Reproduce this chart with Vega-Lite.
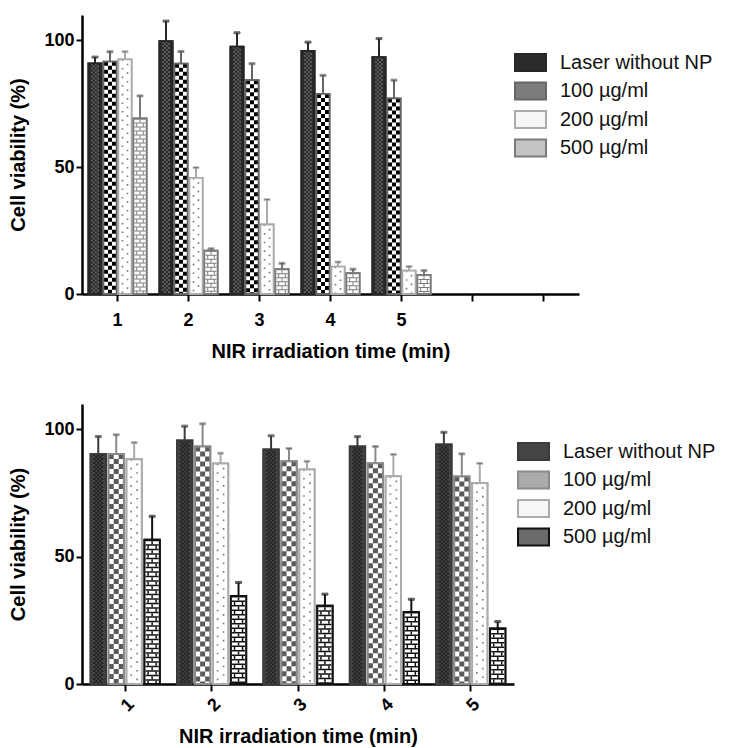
{
  "$schema": "https://vega.github.io/schema/vega-lite/v6.json",
  "padding": {"top": 15, "left": 8, "right": 5, "bottom": 5},
  "spacing": 43,
  "config": {
    "font": "Liberation Sans",
    "view": {"stroke": null},
    "axis": {"domainColor": "#000", "domainWidth": 2.5, "tickColor": "#000", "tickWidth": 2, "tickSize": 7, "labelFontSize": 18, "labelFontWeight": "bold", "labelColor": "#000", "titleFontSize": 20, "titleFontWeight": "bold", "titleColor": "#000", "grid": false, "labelFont": "Liberation Sans", "titleFont": "Liberation Sans"},
    "axisY": {"tickSize": 6, "labelPadding": 2, "titlePadding": 15},
    "axisX": {"labelPadding": 10, "titlePadding": 12},
    "legend": {"title": null, "orient": "none", "padding": 0, "symbolType": "M-1.107,-0.607H1.107V0.607H-1.107Z", "symbolSize": 784, "symbolStrokeWidth": 2, "labelFontSize": 20, "labelFont": "Liberation Sans", "labelColor": "#111", "labelOffset": 14.5, "rowPadding": 0.5}
  },
  "datasets": {
    "top": [
      {"t": 1, "series": "Laser without NP", "v": 90.9, "hi": 93.4},
      {"t": 1, "series": "100 µg/ml", "v": 91.6, "hi": 95.5},
      {"t": 1, "series": "200 µg/ml", "v": 92.5, "hi": 95.5},
      {"t": 1, "series": "500 µg/ml", "v": 69.2, "hi": 78.1},
      {"t": 2, "series": "Laser without NP", "v": 99.7, "hi": 107.6},
      {"t": 2, "series": "100 µg/ml", "v": 90.8, "hi": 95.6},
      {"t": 2, "series": "200 µg/ml", "v": 45.8, "hi": 49.8},
      {"t": 2, "series": "500 µg/ml", "v": 17.1, "hi": 17.8},
      {"t": 3, "series": "Laser without NP", "v": 97.5, "hi": 103.0},
      {"t": 3, "series": "100 µg/ml", "v": 84.3, "hi": 90.8},
      {"t": 3, "series": "200 µg/ml", "v": 27.4, "hi": 37.2},
      {"t": 3, "series": "500 µg/ml", "v": 9.8, "hi": 12.1},
      {"t": 4, "series": "Laser without NP", "v": 95.8, "hi": 99.3},
      {"t": 4, "series": "100 µg/ml", "v": 78.9, "hi": 86.2},
      {"t": 4, "series": "200 µg/ml", "v": 10.8, "hi": 12.6},
      {"t": 4, "series": "500 µg/ml", "v": 8.2, "hi": 9.8},
      {"t": 5, "series": "Laser without NP", "v": 93.4, "hi": 100.7},
      {"t": 5, "series": "100 µg/ml", "v": 77.1, "hi": 84.3},
      {"t": 5, "series": "200 µg/ml", "v": 9.2, "hi": 10.8},
      {"t": 5, "series": "500 µg/ml", "v": 7.5, "hi": 9.2}
    ],
    "bottom": [
      {"t": 1, "series": "Laser without NP", "v": 90.4, "hi": 97.2},
      {"t": 1, "series": "100 µg/ml", "v": 90.4, "hi": 97.9},
      {"t": 1, "series": "200 µg/ml", "v": 88.3, "hi": 94.8},
      {"t": 1, "series": "500 µg/ml", "v": 56.7, "hi": 65.9},
      {"t": 2, "series": "Laser without NP", "v": 95.7, "hi": 101.3},
      {"t": 2, "series": "100 µg/ml", "v": 93.3, "hi": 102.2},
      {"t": 2, "series": "200 µg/ml", "v": 86.6, "hi": 90.7},
      {"t": 2, "series": "500 µg/ml", "v": 34.6, "hi": 39.9},
      {"t": 3, "series": "Laser without NP", "v": 92.1, "hi": 97.5},
      {"t": 3, "series": "100 µg/ml", "v": 87.5, "hi": 92.5},
      {"t": 3, "series": "200 µg/ml", "v": 84.3, "hi": 87.5},
      {"t": 3, "series": "500 µg/ml", "v": 30.7, "hi": 35.3},
      {"t": 4, "series": "Laser without NP", "v": 93.3, "hi": 97.2},
      {"t": 4, "series": "100 µg/ml", "v": 86.7, "hi": 93.3},
      {"t": 4, "series": "200 µg/ml", "v": 81.6, "hi": 90.2},
      {"t": 4, "series": "500 µg/ml", "v": 28.3, "hi": 33.3},
      {"t": 5, "series": "Laser without NP", "v": 94.1, "hi": 98.9},
      {"t": 5, "series": "100 µg/ml", "v": 81.5, "hi": 90.4},
      {"t": 5, "series": "200 µg/ml", "v": 79.0, "hi": 86.7},
      {"t": 5, "series": "500 µg/ml", "v": 21.8, "hi": 24.5}
    ]
  },
  "resolve": {"scale": {"x": "independent", "y": "independent", "xOffset": "independent", "fill": "independent", "stroke": "independent"}, "legend": {"fill": "independent", "stroke": "independent"}},
  "vconcat": [
    {
      "width": 497,
      "height": 279,
      "data": {"name": "top"},
      "resolve": {"scale": {"xOffset": "independent"}},
      "encoding": {
        "x": {"field": "t", "type": "ordinal", "title": "NIR irradiation time (min)", "scale": {"domain": [1, 2, 3, 4, 5, 6, 7], "paddingInner": 0.18, "paddingOuter": 0.09}, "axis": {"labelAngle": 0, "labelExpr": "datum.value <= 5 ? datum.label : ''"}},
        "xOffset": {"field": "series", "type": "nominal", "scale": {"domain": ["Laser without NP", "100 µg/ml", "200 µg/ml", "500 µg/ml"], "paddingInner": 0.12, "paddingOuter": 0}},
        "y": {"field": "v", "type": "quantitative", "title": "Cell viability (%)", "scale": {"domain": [0, 110], "nice": false}, "axis": {"values": [0, 50, 100]}}
      },
      "layer": [
        {
          "mark": {"type": "bar", "strokeWidth": 1.8},
          "encoding": {
            "fill": {"field": "series", "type": "nominal", "scale": {"domain": ["Laser without NP", "100 µg/ml", "200 µg/ml", "500 µg/ml"], "range": ["#2b2b2b", "#7c7c7c", "#f6f6f6", "#c4c4c4"]}, "legend": {"legendX": 433.5, "legendY": 32.5}},
            "stroke": {"field": "series", "type": "nominal", "scale": {"domain": ["Laser without NP", "100 µg/ml", "200 µg/ml", "500 µg/ml"], "range": ["#262626", "#666666", "#ababab", "#7a7a7a"]}, "legend": {"legendX": 433.5, "legendY": 32.5}}
          }
        },
        {"transform": [{"filter": {"not": {"field": "series", "equal": "Laser without NP"}}}], "mark": {"type": "bar", "fill": "#ffffff", "strokeWidth": 0}},
        {"transform": [{"filter": {"field": "series", "equal": "Laser without NP"}}], "mark": {"type": "rule", "strokeWidth": 2, "strokeDash": [2, 2], "strokeDashOffset": 0, "stroke": "#5a5a5a"}, "encoding": {"xOffset": {"field": "series", "type": "nominal", "scale": {"domain": ["Laser without NP", "100 µg/ml", "200 µg/ml", "500 µg/ml"], "paddingInner": 0.12, "paddingOuter": 0, "range": [-3, 55.22]}}, "y2": {"datum": 0}}},
        {"transform": [{"filter": {"field": "series", "equal": "Laser without NP"}}], "mark": {"type": "rule", "strokeWidth": 2, "strokeDash": [2, 2], "strokeDashOffset": 2, "stroke": "#5a5a5a"}, "encoding": {"xOffset": {"field": "series", "type": "nominal", "scale": {"domain": ["Laser without NP", "100 µg/ml", "200 µg/ml", "500 µg/ml"], "paddingInner": 0.12, "paddingOuter": 0, "range": [-1, 57.22]}}, "y2": {"datum": 0}}},
        {"transform": [{"filter": {"field": "series", "equal": "Laser without NP"}}], "mark": {"type": "rule", "strokeWidth": 2, "strokeDash": [2, 2], "strokeDashOffset": 0, "stroke": "#5a5a5a"}, "encoding": {"xOffset": {"field": "series", "type": "nominal", "scale": {"domain": ["Laser without NP", "100 µg/ml", "200 µg/ml", "500 µg/ml"], "paddingInner": 0.12, "paddingOuter": 0, "range": [1, 59.22]}}, "y2": {"datum": 0}}},
        {"transform": [{"filter": {"field": "series", "equal": "Laser without NP"}}], "mark": {"type": "rule", "strokeWidth": 2, "strokeDash": [2, 2], "strokeDashOffset": 2, "stroke": "#5a5a5a"}, "encoding": {"xOffset": {"field": "series", "type": "nominal", "scale": {"domain": ["Laser without NP", "100 µg/ml", "200 µg/ml", "500 µg/ml"], "paddingInner": 0.12, "paddingOuter": 0, "range": [3, 61.22]}}, "y2": {"datum": 0}}},
        {"transform": [{"filter": {"field": "series", "equal": "100 µg/ml"}}], "mark": {"type": "rule", "strokeWidth": 4, "strokeDash": [4, 4], "strokeDashOffset": 0, "stroke": "#000"}, "encoding": {"xOffset": {"field": "series", "type": "nominal", "scale": {"domain": ["Laser without NP", "100 µg/ml", "200 µg/ml", "500 µg/ml"], "paddingInner": 0.12, "paddingOuter": 0, "range": [-4, 54.22]}}, "y2": {"datum": 0}}},
        {"transform": [{"filter": {"field": "series", "equal": "100 µg/ml"}}], "mark": {"type": "rule", "strokeWidth": 4, "strokeDash": [4, 4], "strokeDashOffset": 4, "stroke": "#000"}, "encoding": {"xOffset": {"field": "series", "type": "nominal", "scale": {"domain": ["Laser without NP", "100 µg/ml", "200 µg/ml", "500 µg/ml"], "paddingInner": 0.12, "paddingOuter": 0, "range": [0, 58.22]}}, "y2": {"datum": 0}}},
        {"transform": [{"filter": {"field": "series", "equal": "100 µg/ml"}}], "mark": {"type": "rule", "strokeWidth": 4, "strokeDash": [4, 4], "strokeDashOffset": 0, "stroke": "#000"}, "encoding": {"xOffset": {"field": "series", "type": "nominal", "scale": {"domain": ["Laser without NP", "100 µg/ml", "200 µg/ml", "500 µg/ml"], "paddingInner": 0.12, "paddingOuter": 0, "range": [4, 62.22]}}, "y2": {"datum": 0}}},
        {"transform": [{"filter": {"field": "series", "equal": "200 µg/ml"}}], "mark": {"type": "rule", "strokeWidth": 1.6, "strokeDash": [1.6, 7], "strokeDashOffset": 0, "stroke": "#777"}, "encoding": {"xOffset": {"field": "series", "type": "nominal", "scale": {"domain": ["Laser without NP", "100 µg/ml", "200 µg/ml", "500 µg/ml"], "paddingInner": 0.12, "paddingOuter": 0, "range": [-2.5, 55.72]}}, "y2": {"datum": 0}}},
        {"transform": [{"filter": {"field": "series", "equal": "200 µg/ml"}}], "mark": {"type": "rule", "strokeWidth": 1.6, "strokeDash": [1.6, 7], "strokeDashOffset": 4.3, "stroke": "#777"}, "encoding": {"xOffset": {"field": "series", "type": "nominal", "scale": {"domain": ["Laser without NP", "100 µg/ml", "200 µg/ml", "500 µg/ml"], "paddingInner": 0.12, "paddingOuter": 0, "range": [2.5, 60.72]}}, "y2": {"datum": 0}}},
        {"transform": [{"filter": {"field": "series", "equal": "500 µg/ml"}}], "mark": {"type": "rule", "strokeWidth": 11, "strokeDash": [1, 3], "strokeDashOffset": 0, "stroke": "#777"}, "encoding": {"y2": {"datum": 0}}},
        {"transform": [{"filter": {"field": "series", "equal": "500 µg/ml"}}], "mark": {"type": "rule", "strokeWidth": 1, "strokeDash": [3, 5], "strokeDashOffset": 7, "stroke": "#777"}, "encoding": {"y2": {"datum": 0}}},
        {"transform": [{"filter": {"field": "series", "equal": "500 µg/ml"}}], "mark": {"type": "rule", "strokeWidth": 1, "strokeDash": [3, 5], "strokeDashOffset": 3, "stroke": "#777"}, "encoding": {"xOffset": {"field": "series", "type": "nominal", "scale": {"domain": ["Laser without NP", "100 µg/ml", "200 µg/ml", "500 µg/ml"], "paddingInner": 0.12, "paddingOuter": 0, "range": [-3.3, 54.92]}}, "y2": {"datum": 0}}},
        {"transform": [{"filter": {"field": "series", "equal": "500 µg/ml"}}], "mark": {"type": "rule", "strokeWidth": 1, "strokeDash": [3, 5], "strokeDashOffset": 3, "stroke": "#777"}, "encoding": {"xOffset": {"field": "series", "type": "nominal", "scale": {"domain": ["Laser without NP", "100 µg/ml", "200 µg/ml", "500 µg/ml"], "paddingInner": 0.12, "paddingOuter": 0, "range": [3.3, 61.52]}}, "y2": {"datum": 0}}},
        {"mark": {"type": "bar", "fillOpacity": 0, "strokeWidth": 1.8}, "encoding": {"stroke": {"field": "series", "type": "nominal", "legend": null}}},
        {"mark": {"type": "rule", "strokeWidth": 2}, "encoding": {"y2": {"field": "hi"}, "stroke": {"field": "series", "type": "nominal", "legend": null}}},
        {"mark": {"type": "tick", "orient": "horizontal", "size": 6, "thickness": 2}, "encoding": {"y": {"field": "hi", "type": "quantitative", "title": "Cell viability (%)"}, "stroke": {"field": "series", "type": "nominal", "legend": null}, "fill": {"value": "#333"}}}
      ]
    },
    {
      "width": 432,
      "height": 280,
      "data": {"name": "bottom"},
      "resolve": {"scale": {"xOffset": "independent"}},
      "encoding": {
        "x": {"field": "t", "type": "ordinal", "title": "NIR irradiation time (min)", "scale": {"paddingInner": 0.2, "paddingOuter": 0.1}, "axis": {"labelAngle": -45, "labelPadding": 4}},
        "xOffset": {"field": "series", "type": "nominal", "scale": {"domain": ["Laser without NP", "100 µg/ml", "200 µg/ml", "500 µg/ml"], "paddingInner": 0.15, "paddingOuter": 0}},
        "y": {"field": "v", "type": "quantitative", "title": "Cell viability (%)", "scale": {"domain": [0, 110], "nice": false}, "axis": {"values": [0, 50, 100]}}
      },
      "layer": [
        {
          "mark": {"type": "bar", "strokeWidth": 2},
          "encoding": {
            "fill": {"field": "series", "type": "nominal", "scale": {"domain": ["Laser without NP", "100 µg/ml", "200 µg/ml", "500 µg/ml"], "range": ["#444444", "#ababab", "#f6f6f6", "#6a6a6a"]}, "legend": {"legendX": 436.5, "legendY": 32.5}},
            "stroke": {"field": "series", "type": "nominal", "scale": {"domain": ["Laser without NP", "100 µg/ml", "200 µg/ml", "500 µg/ml"], "range": ["#3a3a3a", "#8a8a8a", "#ababab", "#111111"]}, "legend": {"legendX": 436.5, "legendY": 32.5}}
          }
        },
        {"transform": [{"filter": {"not": {"field": "series", "equal": "Laser without NP"}}}], "mark": {"type": "bar", "fill": "#ffffff", "strokeWidth": 0}},
        {"transform": [{"filter": {"field": "series", "equal": "Laser without NP"}}], "mark": {"type": "rule", "strokeWidth": 2, "strokeDash": [2, 2], "strokeDashOffset": 0, "stroke": "#1e1e1e"}, "encoding": {"xOffset": {"field": "series", "type": "nominal", "scale": {"domain": ["Laser without NP", "100 µg/ml", "200 µg/ml", "500 µg/ml"], "paddingInner": 0.15, "paddingOuter": 0, "range": [-4, 65.12]}}, "y2": {"datum": 0}}},
        {"transform": [{"filter": {"field": "series", "equal": "Laser without NP"}}], "mark": {"type": "rule", "strokeWidth": 2, "strokeDash": [2, 2], "strokeDashOffset": 2, "stroke": "#1e1e1e"}, "encoding": {"xOffset": {"field": "series", "type": "nominal", "scale": {"domain": ["Laser without NP", "100 µg/ml", "200 µg/ml", "500 µg/ml"], "paddingInner": 0.15, "paddingOuter": 0, "range": [-2, 67.12]}}, "y2": {"datum": 0}}},
        {"transform": [{"filter": {"field": "series", "equal": "Laser without NP"}}], "mark": {"type": "rule", "strokeWidth": 2, "strokeDash": [2, 2], "strokeDashOffset": 0, "stroke": "#1e1e1e"}, "encoding": {"y2": {"datum": 0}}},
        {"transform": [{"filter": {"field": "series", "equal": "Laser without NP"}}], "mark": {"type": "rule", "strokeWidth": 2, "strokeDash": [2, 2], "strokeDashOffset": 2, "stroke": "#1e1e1e"}, "encoding": {"xOffset": {"field": "series", "type": "nominal", "scale": {"domain": ["Laser without NP", "100 µg/ml", "200 µg/ml", "500 µg/ml"], "paddingInner": 0.15, "paddingOuter": 0, "range": [2, 71.12]}}, "y2": {"datum": 0}}},
        {"transform": [{"filter": {"field": "series", "equal": "Laser without NP"}}], "mark": {"type": "rule", "strokeWidth": 2, "strokeDash": [2, 2], "strokeDashOffset": 0, "stroke": "#1e1e1e"}, "encoding": {"xOffset": {"field": "series", "type": "nominal", "scale": {"domain": ["Laser without NP", "100 µg/ml", "200 µg/ml", "500 µg/ml"], "paddingInner": 0.15, "paddingOuter": 0, "range": [4, 73.12]}}, "y2": {"datum": 0}}},
        {"transform": [{"filter": {"field": "series", "equal": "100 µg/ml"}}], "mark": {"type": "rule", "strokeWidth": 5, "strokeDash": [5, 5], "strokeDashOffset": 0, "stroke": "#5a5a5a"}, "encoding": {"xOffset": {"field": "series", "type": "nominal", "scale": {"domain": ["Laser without NP", "100 µg/ml", "200 µg/ml", "500 µg/ml"], "paddingInner": 0.15, "paddingOuter": 0, "range": [-5, 64.12]}}, "y2": {"datum": 0}}},
        {"transform": [{"filter": {"field": "series", "equal": "100 µg/ml"}}], "mark": {"type": "rule", "strokeWidth": 5, "strokeDash": [5, 5], "strokeDashOffset": 5, "stroke": "#5a5a5a"}, "encoding": {"y2": {"datum": 0}}},
        {"transform": [{"filter": {"field": "series", "equal": "100 µg/ml"}}], "mark": {"type": "rule", "strokeWidth": 5, "strokeDash": [5, 5], "strokeDashOffset": 0, "stroke": "#5a5a5a"}, "encoding": {"xOffset": {"field": "series", "type": "nominal", "scale": {"domain": ["Laser without NP", "100 µg/ml", "200 µg/ml", "500 µg/ml"], "paddingInner": 0.15, "paddingOuter": 0, "range": [5, 74.12]}}, "y2": {"datum": 0}}},
        {"transform": [{"filter": {"field": "series", "equal": "200 µg/ml"}}], "mark": {"type": "rule", "strokeWidth": 1.6, "strokeDash": [1.6, 7], "strokeDashOffset": 0, "stroke": "#777"}, "encoding": {"xOffset": {"field": "series", "type": "nominal", "scale": {"domain": ["Laser without NP", "100 µg/ml", "200 µg/ml", "500 µg/ml"], "paddingInner": 0.15, "paddingOuter": 0, "range": [-3, 66.12]}}, "y2": {"datum": 0}}},
        {"transform": [{"filter": {"field": "series", "equal": "200 µg/ml"}}], "mark": {"type": "rule", "strokeWidth": 1.6, "strokeDash": [1.6, 7], "strokeDashOffset": 4.3, "stroke": "#777"}, "encoding": {"xOffset": {"field": "series", "type": "nominal", "scale": {"domain": ["Laser without NP", "100 µg/ml", "200 µg/ml", "500 µg/ml"], "paddingInner": 0.15, "paddingOuter": 0, "range": [3, 72.12]}}, "y2": {"datum": 0}}},
        {"transform": [{"filter": {"field": "series", "equal": "500 µg/ml"}}], "mark": {"type": "rule", "strokeWidth": 13, "strokeDash": [1.5, 3], "strokeDashOffset": 0, "stroke": "#111"}, "encoding": {"y2": {"datum": 0}}},
        {"transform": [{"filter": {"field": "series", "equal": "500 µg/ml"}}], "mark": {"type": "rule", "strokeWidth": 1.5, "strokeDash": [3, 6], "strokeDashOffset": 7.5, "stroke": "#111"}, "encoding": {"y2": {"datum": 0}}},
        {"transform": [{"filter": {"field": "series", "equal": "500 µg/ml"}}], "mark": {"type": "rule", "strokeWidth": 1.5, "strokeDash": [3, 6], "strokeDashOffset": 3, "stroke": "#111"}, "encoding": {"xOffset": {"field": "series", "type": "nominal", "scale": {"domain": ["Laser without NP", "100 µg/ml", "200 µg/ml", "500 µg/ml"], "paddingInner": 0.15, "paddingOuter": 0, "range": [-4, 65.12]}}, "y2": {"datum": 0}}},
        {"transform": [{"filter": {"field": "series", "equal": "500 µg/ml"}}], "mark": {"type": "rule", "strokeWidth": 1.5, "strokeDash": [3, 6], "strokeDashOffset": 3, "stroke": "#111"}, "encoding": {"xOffset": {"field": "series", "type": "nominal", "scale": {"domain": ["Laser without NP", "100 µg/ml", "200 µg/ml", "500 µg/ml"], "paddingInner": 0.15, "paddingOuter": 0, "range": [4, 73.12]}}, "y2": {"datum": 0}}},
        {"mark": {"type": "bar", "fillOpacity": 0, "strokeWidth": 2}, "encoding": {"stroke": {"field": "series", "type": "nominal", "legend": null}}},
        {"mark": {"type": "rule", "strokeWidth": 2}, "encoding": {"y2": {"field": "hi"}, "stroke": {"field": "series", "type": "nominal", "legend": null}}},
        {"mark": {"type": "tick", "orient": "horizontal", "size": 6, "thickness": 2}, "encoding": {"y": {"field": "hi", "type": "quantitative", "title": "Cell viability (%)"}, "stroke": {"field": "series", "type": "nominal", "legend": null}, "fill": {"value": "#333"}}}
      ]
    }
  ]
}
